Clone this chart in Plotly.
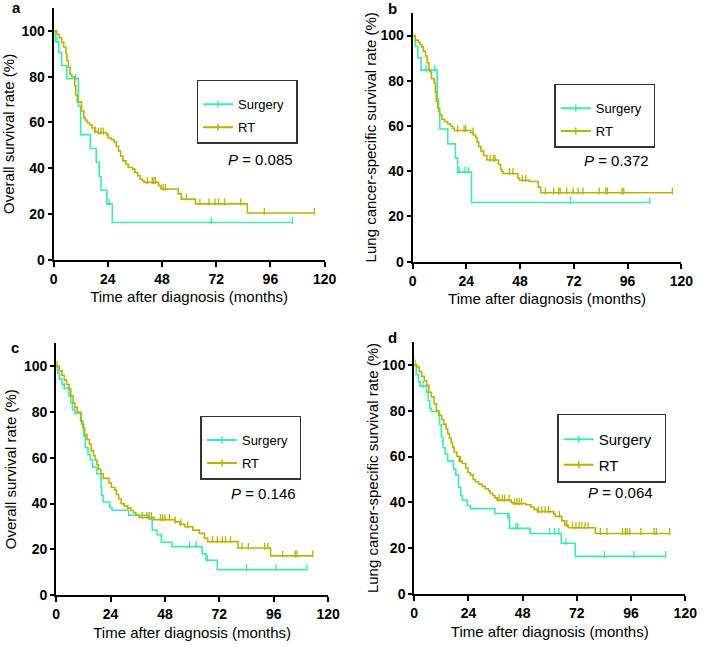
import plotly.graph_objects as go

W, H = 709, 647

# ---------------- data (months, survival %) ----------------
# Panel a: Overall survival
a_surg_t = [0, 0.8, 2.3, 3.6, 5.8, 11.0, 12.0, 16.3, 18.9, 20.2, 21.0, 23.6, 26.0]
a_surg_s = [100, 95.3, 90.6, 84.9, 79.1, 67.2, 54.7, 48.6, 42.6, 36.4, 30.4, 24.4, 16.3]
a_surg_end = 105.8
a_surg_cens = [1.5, 9.8, 24.6, 69.8, 105.8]

a_rt_t = [0, 1.4, 2.6, 3.6, 4.5, 5.5, 5.9, 6.6, 7.3, 8.1, 9.4, 9.8, 10.5, 12.4, 13.4, 14.1, 14.8,
          15.9, 17.0, 18.2, 19.6, 23.5, 24.2, 25.6, 26.8, 27.8, 28.8, 29.7, 30.7, 32.1, 33.1,
          35.0, 36.0, 37.2, 38.3, 39.3, 40.1, 46.5, 47.6, 55.2, 56.6, 62.8, 85.8]
a_rt_s = [100, 98.5, 97, 95, 93, 90, 87, 84, 81, 80, 76, 72, 69, 65, 62, 61, 60,
          59, 57.6, 56, 55.5, 54.7, 53.2, 52.5, 51.5, 49.6, 47.5, 45.3, 43.2, 41.7, 40.3,
          39.6, 38.1, 36.7, 35.3, 34.5, 33.8, 32.4, 30.9, 28.8, 26.5, 24.4, 20.4]
a_rt_end = 115.5
a_rt_cens = [18.4, 19.9, 21.0, 22.0, 41.5, 43.7, 44.4, 45.1, 48.5, 49.5, 58.8,
             64.8, 68.8, 71.4, 73.1, 75.7, 82.9, 93.3, 115.5]

# Panel b: Lung cancer-specific survival
b_surg_t = [0, 1.2, 2.3, 3.8, 11.0, 11.6, 12.1, 15.7, 19.1, 20.1, 26.3]
b_surg_s = [100, 95.3, 90.2, 84.7, 72, 66.5, 58.7, 52.1, 45.9, 39.6, 26.2]
b_surg_end = 105.9
b_surg_cens = [6.0, 9.9, 20.8, 23.4, 24.9, 70.5, 105.9]

b_rt_t = [0, 1.2, 2.6, 3.3, 4.1, 4.8, 5.8, 6.5, 7.3, 7.7, 8.4, 9.6, 10.2, 10.6, 11.3, 12.1,
          13.1, 14.3, 15.7, 16.9, 17.9, 18.6, 25.9, 27.1, 28.1, 28.8, 29.5, 30.5, 31.7, 33.2,
          38.3, 39.3, 39.7, 40.4, 47.0, 47.7, 52.1, 56.1, 57.2]
b_rt_s = [100, 98, 97, 96, 95, 93, 91, 88, 85, 84, 81, 79, 75, 71, 68, 65,
          63, 62, 61, 60, 59, 58, 57, 56, 55, 53, 51, 49, 47, 45,
          43, 41, 40, 39, 37, 36, 35.5, 33, 30.5]
b_rt_end = 116
b_rt_cens = [20.1, 23.0, 23.7, 27.0, 34.6, 36.1, 36.8, 43.3, 44.8, 49.0, 50.5, 59.3, 63.0,
             65.2, 65.9, 68.8, 71.7, 73.9, 76.1, 83.3, 86.3, 87.0, 93.5, 94.3, 116]

# Panel c: Overall survival
c_surg_t = [0, 0.7, 1.4, 2.6, 3.6, 5.7, 6.5, 7.2, 8.3, 11.2, 12.2, 12.9, 14.1, 15.1, 16.1,
            18.0, 19.8, 20.1, 20.8, 23.7, 24.7, 32.0, 41.0, 42.4, 44.5, 46.4, 51.0, 64.4,
            66.1, 71.1]
c_surg_s = [100, 97, 94.3, 92, 90.3, 87, 84, 81, 79.5, 74.5, 69.4, 64.4, 61.5, 59, 55.8,
            52.9, 47.1, 43.5, 40.7, 38.3, 37.1, 34.9, 33.2, 28.5, 26.4, 23.1, 21.2, 18.1,
            15.3, 11.2]
c_surg_end = 110.6
c_surg_cens = [3.6, 58.9, 61.8, 66.8, 84.0, 97.0, 110.6]

c_rt_t = [0, 1.4, 2.6, 3.6, 4.6, 5.7, 6.5, 7.5, 8.3, 9.3, 10.8, 11.8, 12.6, 13.6, 14.7,
          15.5, 16.5, 17.2, 18.0, 18.7, 19.7, 20.8, 23.3, 24.4, 25.9, 26.6, 27.6, 28.7,
          29.9, 31.6, 33.0, 34.2, 35.2, 36.6, 43.1, 52.4, 54.6, 56.8, 60.3, 63.2, 65.4,
          66.8, 80.2, 94.6]
c_rt_s = [100, 98, 96, 94, 92, 90, 87, 84, 82, 80, 76, 73, 70, 68, 66,
          63, 61, 59, 57, 55, 53, 51, 49, 47, 46, 44, 42, 40,
          39, 38, 37, 36, 35, 34, 33, 32, 31, 29.9, 28.4, 27, 24.9,
          23.4, 20.6, 17.2]
c_rt_end = 113.2
c_rt_cens = [0.4, 38.0, 40.0, 41.0, 42.0, 46.0, 47.0, 48.0, 50.0, 52.5, 55.0, 58.0,
             69.0, 71.1, 73.3, 74.7, 76.9, 81.9, 84.8, 92.0, 93.4, 99.9, 105.5, 106.2, 113.2]

# Panel d: Lung cancer-specific survival
d_surg_t = [0, 0.9, 1.9, 2.6, 5.5, 6.2, 6.9, 7.6, 11.2, 12.0, 12.7, 13.7, 14.8, 17.4, 18.4,
            19.6, 20.6, 21.3, 23.5, 24.9, 35.7, 41.5, 42.2, 51.3, 65.1, 71.3]
d_surg_s = [100, 95.7, 92.5, 90.7, 88, 84.2, 81, 79.6, 73.9, 68.6, 63.8, 61, 58.1, 54.5, 52,
            46.6, 43, 40.9, 38.7, 37.3, 35.2, 33.3, 28.7, 26.5, 22.2, 16.5]
d_surg_end = 111.3
d_surg_cens = [4.0, 42.0, 45.1, 45.8, 60.0, 62.2, 64.1, 67.2, 84.2, 97.2, 111.3]

d_rt_t = [0, 1.2, 2.2, 3.3, 4.5, 5.5, 6.5, 7.6, 8.8, 9.8, 10.8, 12.2, 13.1, 14.1, 14.8,
          15.6, 16.3, 17.0, 17.7, 18.9, 19.9, 21.3, 22.8, 23.8, 24.9, 26.1, 27.1, 28.5,
          30.0, 31.4, 32.9, 33.6, 34.7, 35.7, 36.7, 42.9, 43.7, 49.4, 51.6, 53.0, 54.5,
          61.7, 62.4, 65.3, 66.7, 68.2, 80.2]
d_rt_s = [100, 99, 97, 95, 93, 91, 88, 86, 83, 80, 78, 76, 74, 72, 70,
          68, 66, 64, 62, 60, 58, 57, 55, 53, 52, 50, 49, 48,
          47, 46, 45, 44, 43, 42, 41, 40, 39.5, 39, 38, 37, 36,
          35, 34, 32, 30, 29, 26.5]
d_rt_end = 113.1
d_rt_cens = [0.4, 20.5, 37.5, 39.0, 40.0, 42.0, 44.5, 45.5, 46.5, 47.5, 55.0, 56.5, 58.0,
             59.5, 64.3, 67.6, 70.1, 71.6, 73.0, 74.2, 75.6, 77.0, 82.4, 85.3, 92.2, 93.5,
             94.3, 95.4, 100.4, 106.2, 107.2, 113.1]

p_values = ["0.085", "0.372", "0.146", "0.064"]
panel_letters = ["a", "b", "c", "d"]
y_titles = ["Overall survival rate (%)", "Lung cancer-specific survival rate (%)",
            "Overall survival rate (%)", "Lung cancer-specific survival rate (%)"]
x_title = "Time after diagnosis (months)"
x_ticks = [0, 24, 48, 72, 96, 120]
y_ticks = [0, 20, 40, 60, 80, 100]
group_names = ["Surgery", "RT"]

panels = [
    [(a_surg_t, a_surg_s, a_surg_end, a_surg_cens), (a_rt_t, a_rt_s, a_rt_end, a_rt_cens)],
    [(b_surg_t, b_surg_s, b_surg_end, b_surg_cens), (b_rt_t, b_rt_s, b_rt_end, b_rt_cens)],
    [(c_surg_t, c_surg_s, c_surg_end, c_surg_cens), (c_rt_t, c_rt_s, c_rt_end, c_rt_cens)],
    [(d_surg_t, d_surg_s, d_surg_end, d_surg_cens), (d_rt_t, d_rt_s, d_rt_end, d_rt_cens)],
]

# ---------------- styling / layout ----------------
COLORS = ["#3FE6B6", "#B9B200"]
FONT = "Arial, Liberation Sans, sans-serif"

# plot areas in px: (x0, x1, y_bottom(value 0), px per unit)
areas = [
    (50.7, 328.0, 263.0, 2.317),
    (418.0, 693.0, 265.0, 2.29),
    (53.3, 331.7, 602.7, 2.32),
    (419.7, 697.0, 601.7, 2.324),
]
y_standoff = [4, 0, 4, 0]
legend_pos = [(197, 81, 13), (563, 85, 13), (201, 421, 13), (566, 419, 15)]
p_pos = [(262, 162), (627, 163), (266, 500), (631, 499)]
letter_pos = [(13, 8), (397, 9), (11, 352), (397, 342)]
YMAX = 110


def step_value(t, s, c):
    v = s[0]
    for ti, si in zip(t, s):
        if ti <= c:
            v = si
    return v


fig = go.Figure()
layout = dict(
    width=W, height=H, margin=dict(l=0, r=0, t=0, b=0),
    paper_bgcolor="white", plot_bgcolor="white",
    font=dict(family=FONT, color="black"),
    annotations=[],
)

for i, (groups, area) in enumerate(zip(panels, areas)):
    k = "" if i == 0 else str(i + 1)
    x0, x1, yb, ppu = area
    ytop = yb - YMAX * ppu
    xa = dict(
        domain=[x0 / W, x1 / W], range=[0, 120], anchor="y" + k,
        tickvals=x_ticks, showline=True, linewidth=2, linecolor="black",
        ticks="outside", ticklen=5, tickwidth=2, tickcolor="black",
        tickfont=dict(size=14, family=FONT, weight="bold"),
        showgrid=False, zeroline=False,
        title=dict(text=x_title, font=dict(size=15, family=FONT), standoff=6),
    )
    ya = dict(
        domain=[1 - yb / H, 1 - ytop / H], range=[0, YMAX], anchor="x" + k,
        tickvals=y_ticks, showline=True, linewidth=2, linecolor="black",
        ticks="outside", ticklen=4, tickwidth=2, tickcolor="black",
        tickfont=dict(size=14, family=FONT, weight="bold"),
        showgrid=False, zeroline=False,
        title=dict(text=y_titles[i], font=dict(size=15, family=FONT), standoff=y_standoff[i]),
    )
    layout["xaxis" + k] = xa
    layout["yaxis" + k] = ya
    leg = "legend" + k
    lx, ly, lfs = legend_pos[i]
    layout[leg] = dict(
        x=lx / W, y=1 - ly / H, xanchor="left", yanchor="top",
        bordercolor="#333333", borderwidth=1.5, bgcolor="white",
        font=dict(size=lfs, family=FONT), itemwidth=30, tracegroupgap=3,
        title=dict(text=" ", font=dict(size=6)),
    )

    for g, (t, s, end, cens) in enumerate(groups):
        col = COLORS[g]
        fig.add_trace(go.Scatter(
            x=t + [end], y=s + [s[-1]], mode="lines", line=dict(color=col, width=1.6, shape="hv"),
            xaxis="x" + k, yaxis="y" + k, showlegend=False, hoverinfo="skip",
        ))
        fig.add_trace(go.Scatter(
            x=cens, y=[step_value(t, s, c) + 0.8 for c in cens], mode="markers",
            marker=dict(symbol="line-ns", size=5, line=dict(color=col, width=1.3)),
            xaxis="x" + k, yaxis="y" + k, showlegend=False, hoverinfo="skip",
        ))
        fig.add_trace(go.Scatter(
            x=[None], y=[None], mode="lines+markers", name=group_names[g] + "\u00a0\u00a0",
            line=dict(color=col, width=2),
            marker=dict(symbol="line-ns", size=5, line=dict(color=col, width=1.5)),
            xaxis="x" + k, yaxis="y" + k, legend=leg, legendgroup=f"{i}-{g}", showlegend=True,
        ))

    px_, py_ = p_pos[i]
    layout["annotations"].append(dict(
        x=px_ / W, y=1 - py_ / H, xref="paper", yref="paper", showarrow=False,
        text="<i>P</i> = " + p_values[i], font=dict(size=15, family=FONT),
        xanchor="center", yanchor="middle",
    ))
    lx_, ly_ = letter_pos[i]
    layout["annotations"].append(dict(
        x=lx_ / W, y=1 - ly_ / H, xref="paper", yref="paper", showarrow=False,
        text="<b>" + panel_letters[i] + "</b>", font=dict(size=15, family=FONT),
        xanchor="center", yanchor="middle",
    ))

fig.update_layout(**layout)
fig.write_html("out.html", config={"displayModeBar": False},
               post_script="document.body.style.margin='0';")
